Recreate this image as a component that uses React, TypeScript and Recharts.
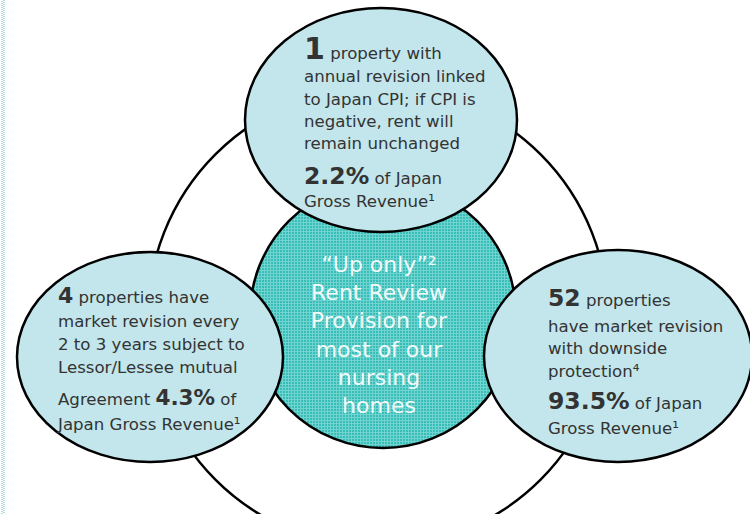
import { ReferenceLine, Scatter, ScatterChart, XAxis, YAxis } from "recharts";

// text content of the diagram
type Seg = string | { b: string };

const propertyCounts = ["1", "4", "52"];
const revenueShares = ["2.2%", "4.3%", "93.5%"];

const topLines: Seg[][] = [
  [{ b: propertyCounts[0] }, " property with"],
  ["annual revision linked"],
  ["to Japan CPI; if CPI is"],
  ["negative, rent will"],
  ["remain unchanged"],
  [{ b: revenueShares[0] }, " of Japan"],
  ["Gross Revenue¹"],
];

const leftLines: Seg[][] = [
  [{ b: propertyCounts[1] }, " properties have"],
  ["market revision every"],
  ["2 to 3 years subject to"],
  ["Lessor/Lessee mutual"],
  ["Agreement ", { b: revenueShares[1] }, " of"],
  ["Japan Gross Revenue¹"],
];

const rightLines: Seg[][] = [
  [{ b: propertyCounts[2] }, " properties"],
  ["have market revision"],
  ["with downside"],
  ["protection⁴"],
  [{ b: revenueShares[2] }, " of Japan"],
  ["Gross Revenue¹"],
];

const centerLines: Seg[][] = [
  ["“Up only”²"],
  ["Rent Review"],
  ["Provision for"],
  ["most of our"],
  ["nursing"],
  ["homes"],
];

// geometry (pixel units, axes map 1:1)
const W = 750;
const H = 514;

const BLUE = "#c2e6eb";
const INK = "#333333";
const FONT = "'DejaVu Sans', sans-serif";

interface Bubble {
  key: string;
  x: number;
  y: number;
  rx: number;
  ry: number;
  fill: string;
  lines: Seg[][];
  textDx: number;
  baselines: number[];
  bigSize: number[];
  anchor?: "start" | "middle";
  color?: string;
  fontSize?: number;
}

const bubbles: Bubble[] = [
  { key: "ring", x: 378, y: 317, rx: 230, ry: 230, fill: "none", lines: [], textDx: 0, baselines: [], bigSize: [] },
  {
    key: "center", x: 383, y: 315, rx: 133, ry: 133, fill: "url(#tealGrid)",
    lines: centerLines, textDx: -4, baselines: [-43, -15, 13, 42, 70, 98], bigSize: [],
    anchor: "middle", color: "#f2fafa", fontSize: 22,
  },
  {
    key: "top", x: 381, y: 120, rx: 136, ry: 112, fill: BLUE,
    lines: topLines, textDx: -77, baselines: [-61, -38, -15, 7, 29, 64, 87], bigSize: [30, 23.5],
  },
  {
    key: "left", x: 150, y: 357, rx: 133, ry: 105, fill: BLUE,
    lines: leftLines, textDx: -92, baselines: [-54, -30, -7, 16, 48, 73], bigSize: [22, 21.5],
  },
  {
    key: "right", x: 618, y: 356, rx: 134, ry: 106, fill: BLUE,
    lines: rightLines, textDx: -70, baselines: [-50, -24, -2, 21, 53, 78], bigSize: [23.5, 23.5],
  },
];

function BubbleShape(props: any) {
  const { cx, cy, payload } = props;
  const b: Bubble = payload;
  let bigIdx = 0;
  return (
    <g>
      {b.key === "center" && (
        <defs>
          <pattern id="tealGrid" width={3} height={3} patternUnits="userSpaceOnUse">
            <rect width={3} height={3} fill="#38bdb8" />
            <rect width={3} height={1} fill="#72d4cf" />
            <rect width={1} height={3} fill="#72d4cf" />
          </pattern>
        </defs>
      )}
      <ellipse cx={cx} cy={cy} rx={b.rx} ry={b.ry} fill={b.fill} stroke="#000" strokeWidth={2.5} />
      {b.lines.map((line, i) => (
        <text
          key={i}
          x={cx + b.textDx}
          y={cy + b.baselines[i]}
          textAnchor={b.anchor ?? "start"}
          fill={b.color ?? INK}
          fontFamily={FONT}
          fontSize={b.fontSize ?? 16.6}
          style={{ whiteSpace: "pre" }}
        >
          {line.map((seg, j) =>
            typeof seg === "string" ? (
              <tspan key={j}>{seg}</tspan>
            ) : (
              <tspan key={j} fontWeight="bold" fontSize={b.bigSize[bigIdx++]}>
                {seg.b}
              </tspan>
            )
          )}
        </text>
      ))}
    </g>
  );
}

export default function App() {
  return (
    <div style={{ position: "absolute", left: 0, top: 0, width: W, height: H, background: "#fff" }}>
      <ScatterChart width={W} height={H} margin={{ top: 0, right: 0, bottom: 0, left: 0 }}>
        <XAxis type="number" dataKey="x" domain={[0, W]} hide />
        <YAxis type="number" dataKey="y" domain={[0, H]} reversed hide />
        <ReferenceLine x={2} stroke="#b3d9e4" strokeWidth={2} strokeDasharray="1 1" />
        <ReferenceLine x={4} stroke="#b3d9e4" strokeWidth={2} strokeDasharray="1 1" strokeDashoffset={1} />
        {bubbles.map((b) => (
          <Scatter
            key={b.key}
            data={[b]}
            shape={BubbleShape}
            isAnimationActive={false}
          />
        ))}
      </ScatterChart>
    </div>
  );
}
